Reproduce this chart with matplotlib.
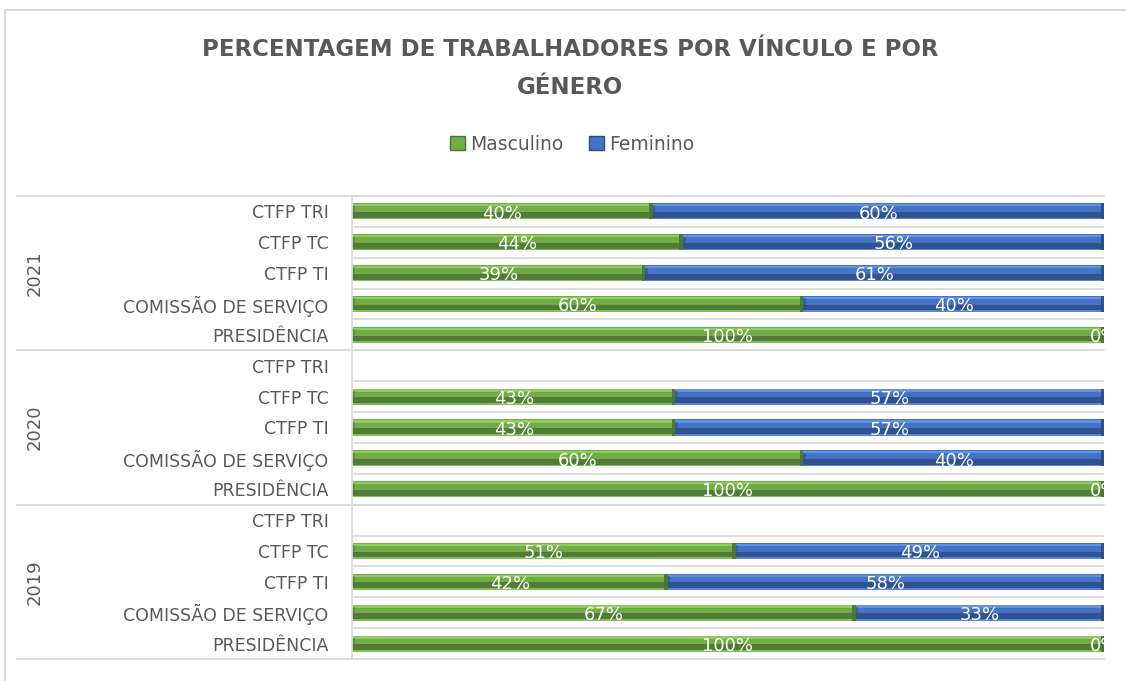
import numpy as np
import matplotlib
matplotlib.use("Agg")
import matplotlib.pyplot as plt
from matplotlib.patches import Patch
from matplotlib.lines import Line2D

# rows listed top to bottom, as they appear in the chart
years = ["2021", "2020", "2019"]
categories = ["CTFP TRI", "CTFP TC", "CTFP TI", "COMISSÃO DE SERVIÇO", "PRESIDÊNCIA"]
masculino = [40, 44, 39, 60, 100,
             np.nan, 43, 43, 60, 100,
             np.nan, 51, 42, 67, 100]
feminino = [60, 56, 61, 40, 0,
            np.nan, 57, 57, 40, 0,
            np.nan, 49, 58, 33, 0]

title = "PERCENTAGEM DE TRABALHADORES POR VÍNCULO E POR\nGÉNERO"
series_names = ["Masculino", "Feminino"]

GREEN = ("#70ad47", "#8fcb62", "#4b7432")
BLUE = ("#4472c4", "#6193e0", "#2e4d85")
GRAY = "#595959"
LINE = "#d9d9d9"

W, H = 1126, 681
fig = plt.figure(figsize=(W / 100, H / 100), dpi=100)
ax = fig.add_axes([352 / W, 1 - 659 / H, (1104 - 352) / W, (659 - 196) / H])

n = len(masculino)
ypos = np.arange(n)
masc = np.array(masculino, dtype=float)
fem = np.array(feminino, dtype=float)
bh = 0.52


def bevel_bars(left, width, colors):
    base, light, dark = colors
    ok = ~np.isnan(width)
    y, l, w = ypos[ok], left[ok], width[ok]
    ax.barh(y, w, left=l, height=bh, color=base, linewidth=0)
    # upper highlight and lower shade to imitate the Excel bevel
    ax.barh(y - bh * 0.38, w, left=l, height=bh * 0.14, color=light, linewidth=0)
    ax.barh(y + bh * 0.22, w, left=l, height=bh * 0.36, color=dark, linewidth=0, alpha=0.85)
    ax.barh(y + bh * 0.45, w, left=l, height=bh * 0.10, color=light, linewidth=0, alpha=0.6)
    # dark bevel at segment ends
    nz = w > 0
    ax.barh(y[nz], 0.45, left=l[nz] + w[nz] - 0.45, height=bh, color=dark,
            linewidth=0, alpha=0.9)
    ax.barh(y[nz], 0.35, left=l[nz], height=bh * 0.7, color=dark, linewidth=0, alpha=0.5)


# row separators inside the plot area
for k in range(n + 1):
    ax.axhline(k - 0.5, color=LINE, lw=1.3, zorder=0)

bevel_bars(np.zeros(n), masc, GREEN)
bevel_bars(np.nan_to_num(masc), fem, BLUE)

for i in range(n):
    if np.isnan(masc[i]):
        continue
    ax.text(masc[i] / 2, i + 0.07, f"{masc[i]:.0f}%", ha="center", va="center",
            color="white", fontsize=13, clip_on=True)
    ax.text(masc[i] + fem[i] / 2, i + 0.07, f"{fem[i]:.0f}%", ha="center", va="center",
            color="white", fontsize=13, clip_on=True)

ax.set_xlim(0, 100)
ax.set_ylim(n - 0.5, -0.5)
ax.set_xticks([])
ax.set_yticks(ypos)
ax.set_yticklabels(categories * len(years), color=GRAY, fontsize=12.5)
ax.tick_params(axis="y", length=0, pad=17)
for s in ["top", "right", "bottom"]:
    ax.spines[s].set_visible(False)
ax.spines["left"].set_color(LINE)
ax.spines["left"].set_linewidth(1.3)

# year group labels and long separators
group = len(categories)
for g, yr in enumerate(years):
    yc = g * group + (group - 1) / 2
    ax.text(-(352 - 35) / 752 * 100, yc, yr, rotation=90, ha="center", va="center",
            color=GRAY, fontsize=13, clip_on=False)
for g in range(len(years) + 1):
    yy = g * group - 0.5
    ax.add_line(Line2D([-(352 - 17) / 752 * 100, 100], [yy, yy], color=LINE, lw=1.3,
                       clip_on=False, zorder=0))

# chart frame (left and top edges visible)
fig.add_artist(Line2D([5 / W, 5 / W], [0, 1 - 10 / H], color=LINE, lw=1.5))
fig.add_artist(Line2D([5 / W, 1], [1 - 10 / H, 1 - 10 / H], color=LINE, lw=1.5))

fig.text(570 / W, 1 - 68.5 / H, title, ha="center", va="center", fontsize=16.5,
         fontweight="bold", color=GRAY, linespacing=1.85)

handles = [Patch(facecolor=GREEN[0], edgecolor=GREEN[2]),
           Patch(facecolor=BLUE[0], edgecolor=BLUE[2])]
fig.legend(handles, series_names, loc="center", bbox_to_anchor=(572 / W, 1 - 144 / H),
           ncol=2, frameon=False, fontsize=13.5, labelcolor=GRAY, handlelength=0.8,
           handleheight=0.8, handletextpad=0.25, columnspacing=1.4)

fig.savefig("out.png", dpi=100, facecolor="white")
